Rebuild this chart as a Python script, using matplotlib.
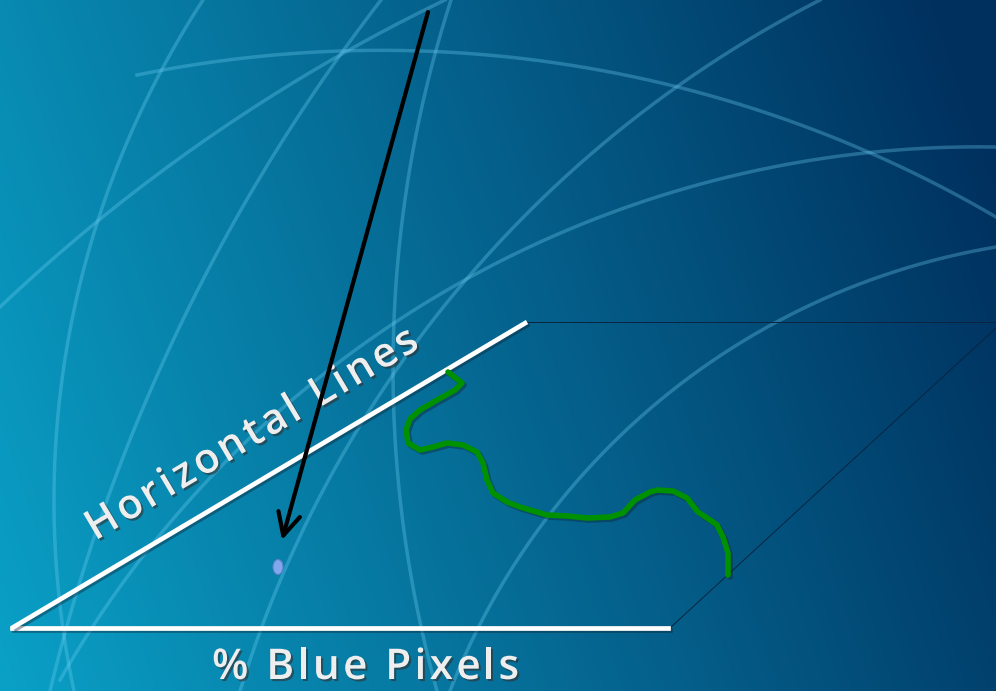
import numpy as np
import matplotlib
matplotlib.use("Agg")
import matplotlib.pyplot as plt
import matplotlib.patheffects as pe
from matplotlib.font_manager import FontProperties
from matplotlib.patches import Ellipse

# axis drawing (pixel coordinates of the slide)
origin = (12, 628)
x_axis_end = (668, 628)
y_axis_end = (527, 322)
back_top_end = (996, 322)
back_side = [(670, 628), (996, 328)]

x_label = "% Blue Pixels"
y_label = "Horizontal Lines"

# hand drawn green trace
trace_x = [448, 462, 455, 437, 420, 410, 406, 408, 420, 433, 447, 463, 477, 483,
           487, 493, 507, 520, 547, 567, 587, 610, 623, 635, 650, 657, 673, 687,
           698, 710, 717, 723, 728, 728]
trace_y = [372, 383, 390, 400, 410, 419, 430, 443, 450, 447, 443, 445, 452, 463,
           480, 493, 502, 507, 515, 516, 518, 517, 513, 500, 492, 490, 491, 498,
           512, 520, 525, 537, 553, 575]

# arrow pointing to the single point
arrow_start = (428, 12)
arrow_end = (282, 540)
point_x = [278]
point_y = [567]

# decorative background arcs: start, middle, end points
arcs = [
    [(137, 75), (445, 52), (996, 217)],
    [(0, 307), (191, 150), (445, 0)],
    [(203, 0), (70, 330), (74, 691)],
    [(381, 0), (178, 330), (50, 691)],
    [(451, 0), (394, 320), (437, 691)],
    [(820, 0), (508, 233), (240, 691)],
    [(996, 147), (489, 267), (60, 680)],
    [(996, 247), (762, 330), (450, 691)],
]

W, H = 996, 691
fig = plt.figure(figsize=(W / 100, H / 100), dpi=100)
ax = fig.add_axes([0, 0, 1, 1])
ax.set_xlim(0, W)
ax.set_ylim(H, 0)
ax.axis("off")

# background gradient
X, Y = np.meshgrid(np.linspace(0, 1, W), np.linspace(0, 1, H))
t = np.clip(0.85 * X + 0.2 * (1 - Y), 0, 1)[..., None]
c0 = np.array([0.04, 0.63, 0.78])
c1 = np.array([0.0, 0.19, 0.37])
ax.imshow(c0 * (1 - t) + c1 * t, extent=(0, W, H, 0), aspect="auto", zorder=0)


def circle(p1, p2, p3):
    (x1, y1), (x2, y2), (x3, y3) = p1, p2, p3
    a = np.array([[x2 - x1, y2 - y1], [x3 - x1, y3 - y1]], float)
    b = 0.5 * np.array([x2**2 - x1**2 + y2**2 - y1**2, x3**2 - x1**2 + y3**2 - y1**2])
    cx, cy = np.linalg.solve(a, b)
    return cx, cy, np.hypot(x1 - cx, y1 - cy)


for p1, p2, p3 in arcs:
    cx, cy, r = circle(p1, p2, p3)
    a1 = np.arctan2(p1[1] - cy, p1[0] - cx)
    a2 = np.arctan2(p2[1] - cy, p2[0] - cx)
    a3 = np.arctan2(p3[1] - cy, p3[0] - cx)
    d13 = (a3 - a1) % (2 * np.pi)
    d12 = (a2 - a1) % (2 * np.pi)
    if d12 < d13:
        ang = np.linspace(a1, a1 + d13, 400)
    else:
        ang = np.linspace(a1, a1 - (2 * np.pi - d13), 400)
    ax.plot(cx + r * np.cos(ang), cy + r * np.sin(ang), color="#6fd0f5",
            alpha=0.32, lw=2.5, zorder=1)

# thin back edges
ax.plot([y_axis_end[0], back_top_end[0]], [y_axis_end[1], back_top_end[1]],
        color="#0a2440", lw=0.7, zorder=2)
ax.plot([back_side[0][0], back_side[1][0]], [back_side[0][1], back_side[1][1]],
        color="#0a2440", lw=0.7, zorder=2)

shadow = [pe.SimpleLineShadow(offset=(1.5, -1.5), shadow_color="#102030", alpha=0.4), pe.Normal()]
ax.plot([origin[0], x_axis_end[0]], [origin[1], x_axis_end[1]], color="white",
        lw=3.4, zorder=3, path_effects=shadow)
ax.plot([origin[0], y_axis_end[0]], [origin[1], y_axis_end[1]], color="white",
        lw=3.4, zorder=3, path_effects=shadow, solid_capstyle="butt")

# green trace
ax.plot(trace_x, trace_y, color="#009100", lw=4, zorder=4,
        solid_capstyle="round", solid_joinstyle="round", path_effects=shadow)

renderer = fig.canvas.get_renderer()
text_fx = [pe.SimplePatchShadow(offset=(1.5, -1.5), shadow_rgbFace="#303030", alpha=0.6),
           pe.Normal()]


def tracked(text, start, length, angle, size):
    prop = FontProperties(family="Open Sans", size=size, weight="semibold")

    def w(s):
        return renderer.get_text_width_height_descent(s, prop, ismath=False)[0]

    track = (length - w(text)) / (len(text) - 1)
    ux, uy = np.cos(np.radians(angle)), -np.sin(np.radians(angle))
    for i, ch in enumerate(text):
        if ch == " ":
            continue
        off = w(text[:i] + "x") - w("x") + i * track
        ax.text(start[0] + ux * off, start[1] + uy * off, ch, rotation=angle,
                rotation_mode="anchor", ha="left", va="baseline",
                fontproperties=prop, color="#eeeeee", zorder=4.5,
                path_effects=text_fx)


ang = np.degrees(np.arctan2(origin[1] - y_axis_end[1], y_axis_end[0] - origin[0]))
tracked(y_label, (95, 541), 380, ang, 30)
tracked(x_label, (212, 679), 307, 0, 30.5)

# arrow
ax.annotate("", xy=arrow_end, xytext=arrow_start,
            arrowprops=dict(arrowstyle="->,head_length=0.8,head_width=0.4",
                            color="black", lw=3, mutation_scale=20,
                            shrinkA=0, shrinkB=0), zorder=5)

# single point
for px, py in zip(point_x, point_y):
    ax.add_patch(Ellipse((px, py), 10, 15, facecolor="#80a8ea",
                         edgecolor="#5a80c8", lw=0.8, zorder=5))

fig.savefig("out.png", dpi=100)
